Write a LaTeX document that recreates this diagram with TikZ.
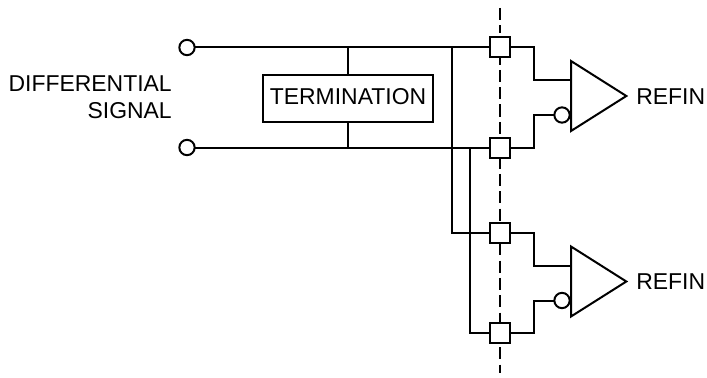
\documentclass[tikz,border=0pt]{standalone}
\usepackage{fontspec}
\setmainfont{Liberation Sans}
\usetikzlibrary{shapes.geometric}
\tikzset{
  wire/.style={line width=1.5pt,line join=miter},
  cut/.style={line width=1.9pt,dash pattern=on 9.2pt off 3.8pt},
  pad/.style={draw,wire,fill=white,minimum size=15pt,inner sep=0pt,outer sep=0pt},
  port/.style={draw,wire,circle,fill=white,minimum size=11.5pt,inner sep=0pt,outer sep=0pt},
  amp/.style={draw,wire,isosceles triangle,isosceles triangle stretches=true,minimum width=52.5pt,minimum height=41.5pt,inner sep=0pt,outer sep=0pt,anchor=lower side},
  lbl/.style={font=\fontsize{17.2}{20}\selectfont,inner sep=0pt}
}
\begin{document}
\begin{tikzpicture}[x=0.75pt,y=-0.75pt]
\useasboundingbox (0,0) rectangle (707,378);

\coordinate (dashtop) at (500,8);
\coordinate (dashup) at (500,33);
\coordinate (dashlow) at (500,52.5);
\coordinate (dashend) at (500,373);
\draw[cut] (dashtop) -- (dashup);
\draw[cut] (dashlow) -- (dashend);

\node[port] (sigp) at (187,47.5) {};
\node[port] (sign) at (187,147.5) {};
\node[pad] (pada) at (500,47.5) {};
\node[pad] (padb) at (500,147.5) {};
\node[pad] (padc) at (500,233) {};
\node[pad] (padd) at (500,333) {};

\node[draw,wire,lbl,text depth=3pt,minimum width=127.5pt,minimum height=35.5pt] (term) at (348,98.5) {TERMINATION};
\node[lbl,anchor=east,align=right] (siglbl) at (172,97.5) {DIFFERENTIAL\\SIGNAL};

\coordinate (junp) at (348,47.5);
\coordinate (junn) at (348,147.5);
\coordinate (juna) at (452,47.5);
\coordinate (junb) at (470,147.5);

\draw[wire] (sigp) -- (pada);
\draw[wire] (sign) -- (padb);
\draw[wire] (term) -- (junp);
\draw[wire] (term) -- (junn);
\draw[wire] (juna) |- (padc);
\draw[wire] (junb) |- (padd);

\node[amp] (ampa) at (571,96) {};
\node[amp] (ampb) at (571,281.5) {};
\node[port] (buba) at (562,115) {};
\node[port] (bubb) at (562,300.5) {};
\coordinate (ina) at (571,80);
\coordinate (inb) at (571,265.5);

\draw[wire] (pada) -- ++(34,0) |- (ina);
\draw[wire] (padb) -- ++(34,0) |- (buba);
\draw[wire] (padc) -- ++(34,0) |- (inb);
\draw[wire] (padd) -- ++(34,0) |- (bubb);

\node[lbl,anchor=west] (outa) at (636,96.5) {REFIN};
\node[lbl,anchor=west] (outb) at (636,282) {REFIN};
\end{tikzpicture}
\end{document}
